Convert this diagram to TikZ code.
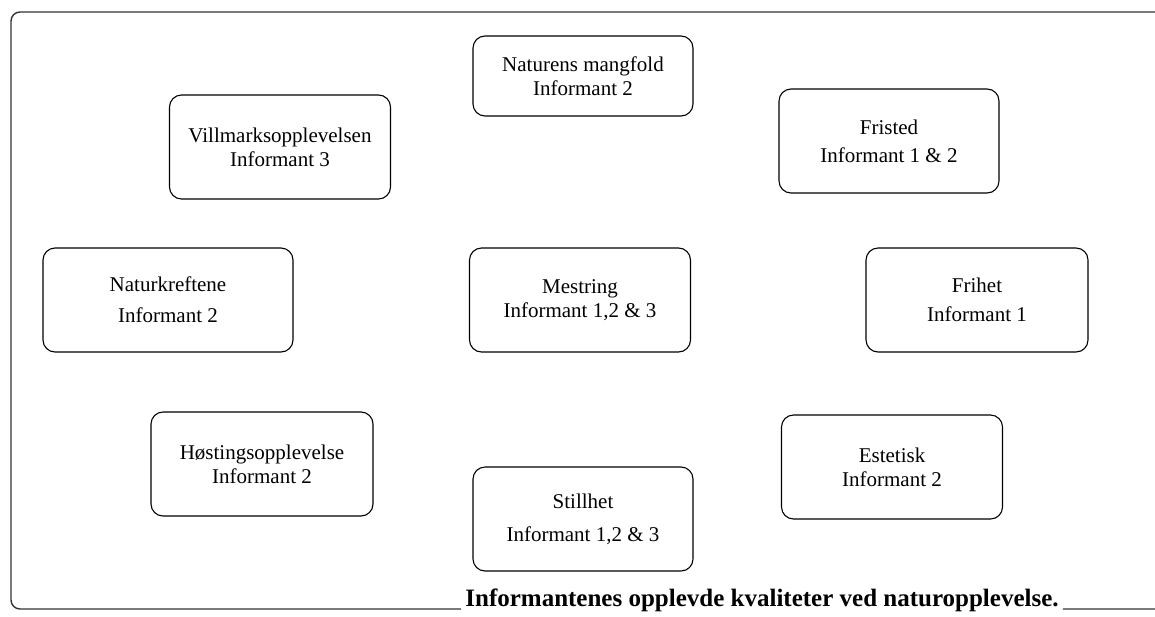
\documentclass[tikz,border=0pt]{standalone}
\usepackage{fontspec}
\setmainfont{Liberation Serif}
\usetikzlibrary{positioning}
\tikzset{
  box/.style={draw, rounded corners=12pt, line width=1.1pt, align=center,
    minimum width=220pt, minimum height=104pt, inner sep=0pt,
    font=\fontsize{21}{24}\selectfont},
  frame/.style={draw=black!80, line width=1.4pt, rounded corners=9pt}
}
\begin{document}
\begin{tikzpicture}[x=1pt, y=-1pt]
  \useasboundingbox (0,0) rectangle (1155,616);
  \clip (0,0) rectangle (1155,616);
  \node[box, minimum height=80pt] (mangfold) at (583,76) {Naturens mangfold\\Informant 2};
  \node[box, minimum width=221pt] (villmark) at (280,147) {Villmarksopplevelsen\\Informant 3};
  \node[box] (fristed) at (889,141) {Fristed\\[4pt]Informant 1 \& 2};
  \node[box, minimum width=250pt] (krefter) at (168,300) {Naturkreftene\\[7pt]Informant 2};
  \node[box, minimum width=221pt] (mestring) at (580,300) {Mestring\\Informant 1,2 \& 3};
  \node[box, minimum width=222pt] (frihet) at (977,300) {Frihet\\[5pt]Informant 1};
  \node[box, minimum width=222pt] (hosting) at (262,464) {Høstingsopplevelse\\Informant 2};
  \node[box] (stillhet) at (583,519) {Stillhet\\[9pt]Informant 1,2 \& 3};
  \node[box, minimum width=221pt] (estetisk) at (892,467) {Estetisk\\Informant 2};
  % caption breaking the bottom edge of the frame
  \node[font=\fontsize{25}{28}\selectfont\bfseries, inner sep=4pt] (caption) at (762,600)
    {Informantenes opplevde kvaliteter ved naturopplevelse.};
  \draw[frame] (caption.west |- 0,609) -- (11,609) -- (11,12) -- (1175,12) -- (1175,609)
    -- (caption.east |- 0,609);
\end{tikzpicture}
\end{document}
